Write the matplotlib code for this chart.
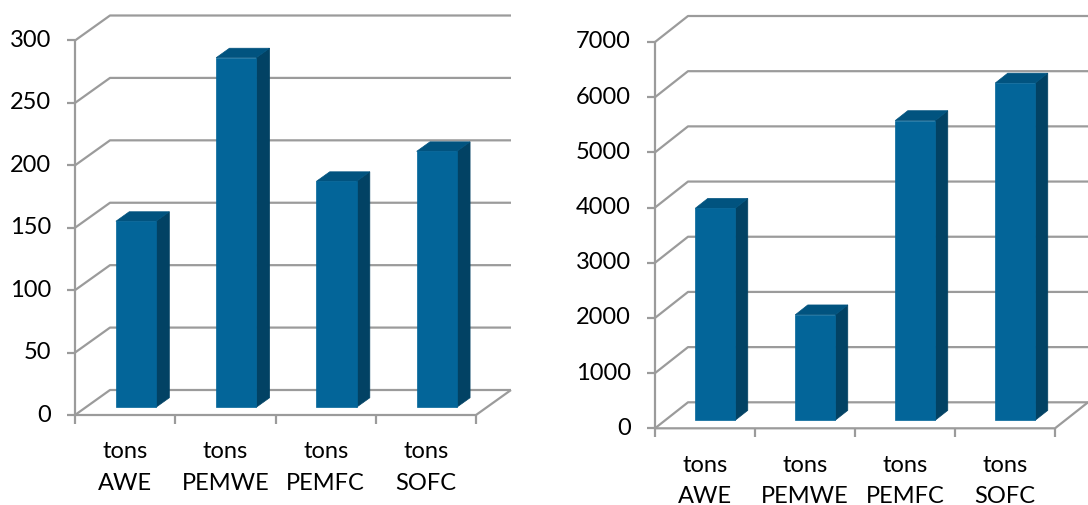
import numpy as np
import matplotlib
matplotlib.use("Agg")
import matplotlib.pyplot as plt
from matplotlib.patches import Polygon
from matplotlib.transforms import IdentityTransform

categories = ["AWE", "PEMWE", "PEMFC", "SOFC"]
unitLabel = "tons"

leftValues = [149, 280, 181, 205]
leftTicks = [0, 50, 100, 150, 200, 250, 300]

rightValues = [3840, 1910, 5430, 6110]
rightTicks = [0, 1000, 2000, 3000, 4000, 5000, 6000, 7000]

FRONT_COLOR = "#036599"
SIDE_COLOR = "#024264"
TOP_COLOR = "#01537F"
GRID_COLOR = "#9b9b9b"
LABEL_SIZE = 17
FIG_W, FIG_H = 1088, 505


def drawChart(fig, box, values, ticks, depth):
    """box = (left, bottom, right, top) of the front plane in pixels (origin top-left)."""
    x0, yBottom, x1, yTop = box
    ax = fig.add_axes([x0 / FIG_W, 1 - yBottom / FIG_H, (x1 - x0) / FIG_W, (yBottom - yTop) / FIG_H])
    ax.set_xlim(0, len(values))
    ax.set_ylim(0, ticks[-1])
    ax.axis("off")
    dxDepth, dyDepth = depth

    def proj(x, y, d):
        px, py = ax.transData.transform((x, y))
        return (px + d * dxDepth, py + d * dyDepth)

    def line(points, **kw):
        xs, ys = zip(*points)
        ax.add_line(plt.Line2D(xs, ys, transform=IdentityTransform(), color=GRID_COLOR,
                               linewidth=1.6, clip_on=False, solid_capstyle="butt", **kw))

    nCat = len(values)
    # back wall gridlines and side-wall diagonals
    for tickValue in ticks:
        line([proj(0, tickValue, 0), proj(0, tickValue, 1), proj(nCat, tickValue, 1)])
    # floor front edge, right floor edge and front vertical axis
    line([proj(0, 0, 0), proj(nCat, 0, 0), proj(nCat, 0, 1)])
    line([proj(0, 0, 0), proj(0, ticks[-1], 0)])

    # tick marks
    for tickValue in ticks:
        px, py = proj(0, tickValue, 0)
        line([(px - 8, py), (px, py)])
        ax.annotate(f"{tickValue}", (0, tickValue), xytext=(-24, 0), textcoords="offset pixels",
                    ha="right", va="center", fontsize=LABEL_SIZE, color="black")
    for catIndex in range(nCat + 1):
        px, py = proj(catIndex, 0, 0)
        line([(px, py), (px, py - 9)])

    for catIndex, name in enumerate(categories):
        ax.annotate(unitLabel, (catIndex + 0.5, 0), xytext=(0, -37), textcoords="offset pixels",
                    ha="center", va="center", fontsize=LABEL_SIZE)
        ax.annotate(name, (catIndex + 0.5, 0), xytext=(0, -68), textcoords="offset pixels",
                    ha="center", va="center", fontsize=LABEL_SIZE)

    # bars: front, side and top faces
    barWidth = 0.4
    dFront, dBack = 0.31, 0.69
    for catIndex, value in enumerate(values):
        xl = catIndex + 0.5 - barWidth / 2
        xr = catIndex + 0.5 + barWidth / 2
        faces = [
            ([proj(xr, 0, dFront), proj(xr, 0, dBack), proj(xr, value, dBack), proj(xr, value, dFront)], SIDE_COLOR),
            ([proj(xl, value, dFront), proj(xr, value, dFront), proj(xr, value, dBack), proj(xl, value, dBack)], TOP_COLOR),
            ([proj(xl, 0, dFront), proj(xr, 0, dFront), proj(xr, value, dFront), proj(xl, value, dFront)], FRONT_COLOR),
        ]
        for verts, color in faces:
            ax.add_patch(Polygon(verts, closed=True, transform=IdentityTransform(), facecolor=color,
                                 edgecolor=color, linewidth=0.5, clip_on=False, zorder=3))
    return ax


plt.rcParams["font.family"] = ["Lato", "DejaVu Sans"]
fig = plt.figure(figsize=(FIG_W / 100, FIG_H / 100), dpi=100)

drawChart(fig, (75, 415, 476, 40.5), leftValues, leftTicks, (35, 25))
drawChart(fig, (655, 428.3, 1055, 42), rightValues, rightTicks, (33, 26))

fig.savefig("out.png", dpi=100)
